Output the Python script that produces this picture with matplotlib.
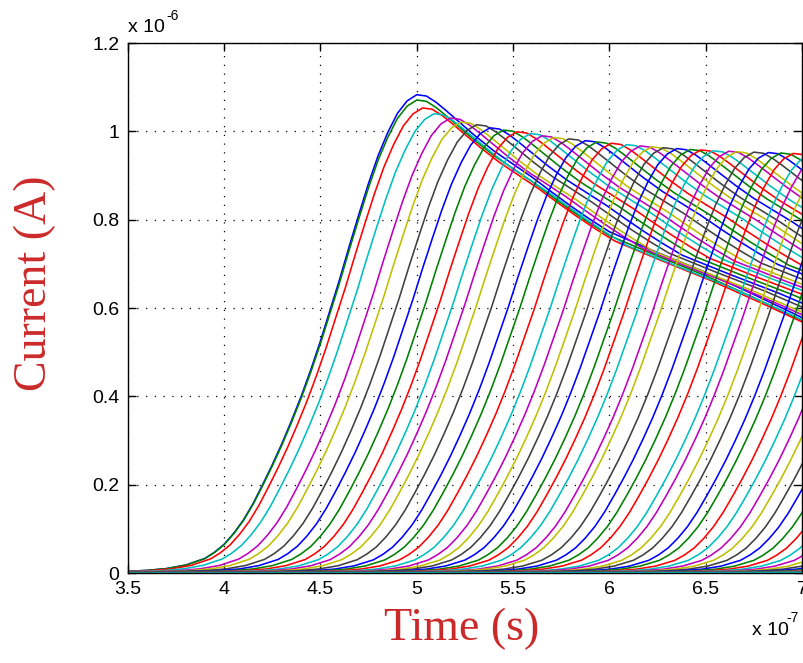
import numpy as np
import matplotlib
matplotlib.use('Agg')
import matplotlib.pyplot as plt
from matplotlib.ticker import FuncFormatter

# waveform of the first (earliest) curve
# time in units of 1e-7 s, current in units of 1e-6 A
base_t = [-1.0, 2.5, 3.0, 3.3, 3.5, 3.6, 3.7, 3.8, 3.9, 3.95, 4.0, 4.05, 4.1,
          4.15, 4.2, 4.25, 4.3, 4.35, 4.4, 4.45, 4.5, 4.55, 4.6, 4.65, 4.7,
          4.75, 4.8, 4.85, 4.9, 4.95, 5.0, 5.05, 5.1, 5.15, 5.2, 5.25, 5.3,
          5.4, 5.5, 5.6, 5.7, 5.8, 5.9, 6.0, 6.25, 6.5, 6.75, 7.0]
base_i = [0.0, 0.001, 0.002, 0.003, 0.004, 0.006, 0.010, 0.018, 0.033, 0.047,
          0.065, 0.09, 0.12, 0.157, 0.20, 0.245, 0.293, 0.345, 0.40, 0.46,
          0.525, 0.595, 0.665, 0.74, 0.812, 0.882, 0.945, 0.997, 1.04, 1.068,
          1.082, 1.079, 1.065, 1.047, 1.028, 1.009, 0.99, 0.955, 0.925, 0.895,
          0.862, 0.83, 0.80, 0.772, 0.725, 0.68, 0.63, 0.578]

# time where each curve crosses 0.4e-6 A (the last ones estimated)
cross_t = [4.41, 4.41, 4.44, 4.50, 4.585, 4.64, 4.72, 4.79, 4.86, 4.93,
           5.00, 5.06, 5.12, 5.20, 5.285, 5.345, 5.42, 5.50, 5.57, 5.63,
           5.69, 5.76, 5.83, 5.885, 5.95, 6.03, 6.07, 6.16, 6.235, 6.30,
           6.365, 6.455, 6.505, 6.575, 6.635, 6.715, 6.77, 6.85, 6.92, 6.99,
           7.05, 7.12, 7.19, 7.26, 7.33, 7.40, 7.47, 7.54, 7.61, 7.68,
           7.75, 7.82, 7.89, 7.96, 8.03, 8.10, 8.17, 8.24, 8.31, 8.38]

# peak current of each curve
peaks = [1.083, 1.071, 1.053, 1.040, 1.030, 1.021, 1.015, 1.008, 1.003, 0.999,
         0.995, 0.990, 0.986, 0.983, 0.979, 0.976, 0.973, 0.970, 0.967, 0.965,
         0.963, 0.961, 0.959, 0.958, 0.956, 0.955, 0.954, 0.953, 0.952, 0.951,
         0.950, 0.949, 0.948, 0.947, 0.946, 0.945, 0.944, 0.943, 0.942, 0.941,
         0.940, 0.940, 0.940, 0.940, 0.940, 0.940, 0.940, 0.940, 0.940, 0.940,
         0.940, 0.940, 0.940, 0.940, 0.940, 0.940, 0.940, 0.940, 0.940, 0.940]

# old matlab color order
colors = ['#0000FF', '#008000', '#FF0000', '#00BFBF', '#BF00BF', '#BFBF00', '#404040']

xticks = [3.5, 4, 4.5, 5, 5.5, 6, 6.5, 7]
yticks = [0, 0.2, 0.4, 0.6, 0.8, 1.0, 1.2]

fig = plt.figure(figsize=(8.04, 6.63), dpi=100)
ax = fig.add_axes([0.159, 0.1357, 0.8385, 0.7994])

bt = np.array(base_t)
bi = np.array(base_i)
for k in range(len(cross_t)):
    shift = cross_t[k] - cross_t[0]
    scale = peaks[k] / bi.max()
    ax.plot(bt + shift, bi * scale, color=colors[k % len(colors)], lw=1.15)

ax.set_xlim(3.5, 7)
ax.set_ylim(0, 1.2)
ax.set_xticks(xticks)
ax.set_yticks(yticks)
fmt = FuncFormatter(lambda v, p: '%g' % v)
ax.xaxis.set_major_formatter(fmt)
ax.yaxis.set_major_formatter(fmt)
ax.tick_params(direction='in', top=True, right=True, length=6, width=1,
               labelsize=14, pad=6)
for lab in ax.get_xticklabels() + ax.get_yticklabels():
    lab.set_family('Liberation Sans')
ax.grid(True, color='black', linestyle=(0, (1, 6)), linewidth=0.9)
for s in ax.spines.values():
    s.set_linewidth(1.0)

# exponent labels, matlab style
fig.text(128 / 804, 1 - 32 / 663, 'x 10', fontsize=14, family='Liberation Sans')
fig.text(166 / 804, 1 - 20 / 663, '-6', fontsize=10, family='Liberation Sans')
fig.text(752 / 804, 1 - 635 / 663, 'x 10', fontsize=14, family='Liberation Sans')
fig.text(786 / 804, 1 - 622 / 663, '-7', fontsize=10, family='Liberation Sans')

fig.text(35 / 804, 1 - 283 / 663, 'Current (A)', rotation=90, ha='center', va='center',
         fontsize=33, color='#CC2A2A', family='Liberation Serif')
fig.text(462 / 804, 1 - 629 / 663, 'Time (s)', ha='center', va='center',
         fontsize=33, color='#CC2A2A', family='Liberation Serif')

fig.savefig('out.png', dpi=100)
